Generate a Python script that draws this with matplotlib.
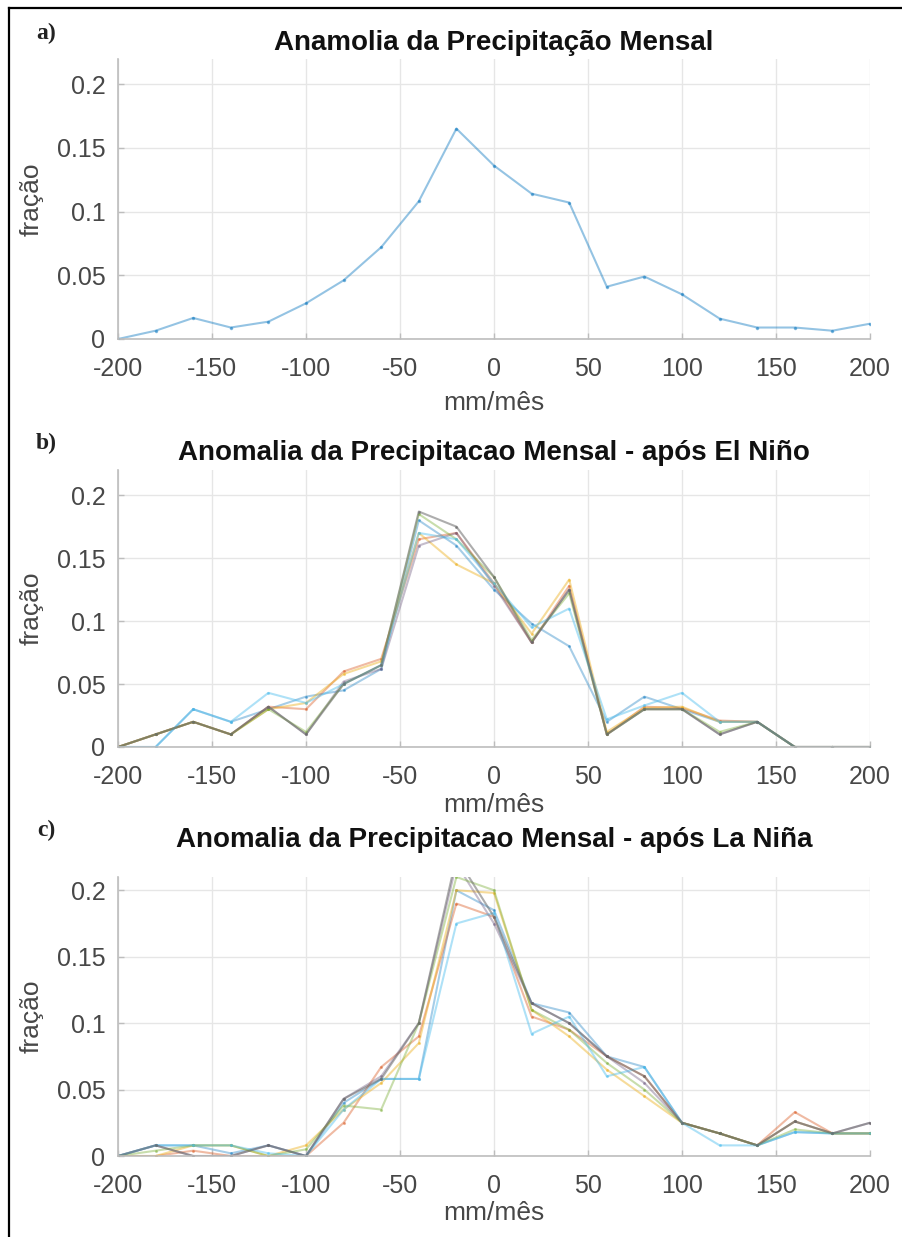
import matplotlib

matplotlib.use("Agg")
import matplotlib.pyplot as plt
import numpy as np
from matplotlib.lines import Line2D
from matplotlib.ticker import FuncFormatter

# Precipitation anomaly bins (mm/month)
anomaly_bins = np.arange(-200, 201, 20)

# a) all months
monthly_fraction = [0.0, 0.0065, 0.0165, 0.009, 0.0136, 0.028, 0.046, 0.072, 0.108, 0.165, 0.136,
                    0.114, 0.107, 0.041, 0.049, 0.035, 0.016, 0.009, 0.009, 0.0065, 0.012]

# b) months after El Niño, one curve per lag
el_nino_1 = [0, 0, 0.03, 0.02, 0.03, 0.04, 0.045, 0.062, 0.18, 0.16, 0.125, 0.098, 0.08, 0.02,
             0.04, 0.03, 0.02, 0.02, 0, 0, 0]
el_nino_2 = [0, 0.01, 0.02, 0.01, 0.032, 0.03, 0.06, 0.07, 0.165, 0.17, 0.13, 0.083, 0.128, 0.01,
             0.032, 0.031, 0.021, 0.02, 0, 0, 0]
el_nino_3 = [0, 0.01, 0.02, 0.01, 0.03, 0.035, 0.058, 0.068, 0.17, 0.145, 0.13, 0.09, 0.133, 0.012,
             0.031, 0.032, 0.02, 0.02, 0, 0, 0]
el_nino_4 = [0, 0.01, 0.02, 0.01, 0.032, 0.01, 0.052, 0.062, 0.16, 0.17, 0.128, 0.083, 0.125, 0.01,
             0.03, 0.03, 0.01, 0.02, 0, 0, 0]
el_nino_5 = [0, 0.01, 0.02, 0.01, 0.03, 0.012, 0.05, 0.065, 0.185, 0.165, 0.135, 0.085, 0.122, 0.01,
             0.03, 0.03, 0.012, 0.02, 0, 0, 0]
el_nino_6 = [0, 0, 0.03, 0.02, 0.043, 0.035, 0.05, 0.065, 0.17, 0.165, 0.13, 0.095, 0.11, 0.022,
             0.033, 0.043, 0.02, 0.02, 0, 0, 0]
el_nino_7 = [0, 0.01, 0.02, 0.01, 0.032, 0.01, 0.05, 0.065, 0.187, 0.175, 0.135, 0.083, 0.125, 0.01,
             0.03, 0.03, 0.01, 0.02, 0, 0, 0]

# c) months after La Niña, one curve per lag
la_nina_1 = [0, 0.008, 0.008, 0.002, 0.008, 0, 0.04, 0.058, 0.058, 0.2, 0.185, 0.115, 0.108, 0.075,
             0.067, 0.025, 0.017, 0.008, 0.018, 0.017, 0.017]
la_nina_2 = [0, 0, 0.004, 0, 0, 0, 0.025, 0.067, 0.09, 0.19, 0.18, 0.105, 0.095, 0.075,
             0.06, 0.025, 0.017, 0.008, 0.033, 0.017, 0.017]
la_nina_3 = [0, 0, 0.008, 0.008, 0, 0.008, 0.035, 0.055, 0.085, 0.2, 0.198, 0.11, 0.09, 0.065,
             0.045, 0.025, 0.017, 0.008, 0.026, 0.017, 0.017]
la_nina_4 = [0, 0.008, 0, 0, 0.008, 0, 0.043, 0.06, 0.1, 0.22, 0.175, 0.115, 0.1, 0.075,
             0.055, 0.025, 0.017, 0.008, 0.026, 0.017, 0.025]
la_nina_5 = [0, 0.004, 0.008, 0.008, 0, 0.005, 0.038, 0.035, 0.1, 0.21, 0.2, 0.11, 0.095, 0.07,
             0.05, 0.025, 0.017, 0.008, 0.02, 0.017, 0.017]
la_nina_6 = [0, 0.008, 0.008, 0.008, 0.002, 0, 0.035, 0.058, 0.058, 0.175, 0.183, 0.092, 0.105, 0.06,
             0.067, 0.025, 0.008, 0.008, 0.018, 0.017, 0.017]
la_nina_7 = [0, 0.008, 0, 0, 0.008, 0, 0.043, 0.058, 0.1, 0.225, 0.18, 0.115, 0.1, 0.075,
             0.06, 0.025, 0.017, 0.008, 0.026, 0.017, 0.025]

x_ticks = [-200, -150, -100, -50, 0, 50, 100, 150, 200]
y_ticks = [0, 0.05, 0.1, 0.15, 0.2]

# MATLAB default line colour order, darker entries toned down a bit
line_colors = ["#0072bd", "#d95319", "#edb120", "#6e5a80", "#77ac30", "#4dbeee", "#6b6b6b"]
line_alphas = [0.35, 0.4, 0.45, 0.4, 0.4, 0.45, 0.55]

W, H = 902, 1237
plt.rcParams["font.family"] = ["Liberation Sans", "DejaVu Sans"]
plt.rcParams["axes.unicode_minus"] = False


def setup_axes(fig, top_px, bottom_px, y_max, title, tag, title_px, xlabel_px):
    """Create one panel from pixel extents and style it like a MATLAB grid plot."""
    left_px, right_px = 118, 870
    ax = fig.add_axes([left_px / W, 1 - bottom_px / H, (right_px - left_px) / W,
                       (bottom_px - top_px) / H])
    ax.set_xlim(-200, 200)
    ax.set_ylim(0, y_max)
    ax.set_xticks(x_ticks)
    ax.set_yticks(y_ticks)
    ax.yaxis.set_major_formatter(FuncFormatter(lambda v, _: f"{v:g}"))
    ax.grid(True, color="#e6e6e6", linewidth=1.0)
    ax.set_axisbelow(True)
    for side in ("top", "right"):
        ax.spines[side].set_visible(False)
    for side in ("left", "bottom"):
        ax.spines[side].set_color("#bdbdbd")
        ax.spines[side].set_linewidth(1.2)
    ax.tick_params(direction="in", length=4, width=1, color="#bdbdbd",
                   labelsize=18, labelcolor="#474747")
    ax.tick_params(axis="x", pad=13)
    ax.tick_params(axis="y", pad=9)

    ax.set_xlabel("mm/mês", fontsize=19, color="#474747")
    ax.xaxis.label.set_va("center")
    ax.xaxis.set_label_coords(0.5, -(xlabel_px - bottom_px) / (bottom_px - top_px))
    ax.set_ylabel("fração", fontsize=19, color="#474747")
    ax.yaxis.label.set_va("center")
    ax.yaxis.set_label_coords(-86 / (right_px - left_px), 0.5)

    fig.text((left_px + right_px) / 2 / W, 1 - title_px / H, title, ha="center", va="center",
             fontsize=20, fontweight="bold", color="#111111")
    fig.text(46 / W, 1 - (title_px - 10) / H, tag, ha="center", va="center",
             fontsize=17, fontweight="bold", family="Liberation Serif", color="#222222")
    return ax


fig = plt.figure(figsize=(W / 100, H / 100), dpi=100)

# Outer frame (only top and left edges fall inside the canvas)
fig.add_artist(Line2D([9 / W, 9 / W], [0, 1 - 8 / H], color="black", linewidth=1.6))
fig.add_artist(Line2D([9 / W, 1], [1 - 8 / H, 1 - 8 / H], color="black", linewidth=1.6))

# a) all months
ax_a = setup_axes(fig, 58.5, 339, 0.22, "Anamolia da Precipitação Mensal", "a)", 43, 403)
ax_a.plot(anomaly_bins, monthly_fraction, color=line_colors[0], alpha=0.42, linewidth=1.5,
          marker=".", markersize=3)

# b) after El Niño
ax_b = setup_axes(fig, 470, 747, 0.22, "Anomalia da Precipitacao Mensal - após El Niño", "b)", 453, 805)
el_nino = [el_nino_1, el_nino_2, el_nino_3, el_nino_4, el_nino_5, el_nino_6, el_nino_7]
for i, series in enumerate(el_nino):
    ax_b.plot(anomaly_bins, series, color=line_colors[i], alpha=line_alphas[i], linewidth=1.5,
              marker=".", markersize=2.5)

# c) after La Niña
ax_c = setup_axes(fig, 877, 1156, 0.21, "Anomalia da Precipitacao Mensal - após La Niña", "c)", 840, 1213)
la_nina = [la_nina_1, la_nina_2, la_nina_3, la_nina_4, la_nina_5, la_nina_6, la_nina_7]
for i, series in enumerate(la_nina):
    ax_c.plot(anomaly_bins, series, color=line_colors[i], alpha=line_alphas[i], linewidth=1.5,
              marker=".", markersize=2.5)

fig.savefig("out.png", dpi=100)
